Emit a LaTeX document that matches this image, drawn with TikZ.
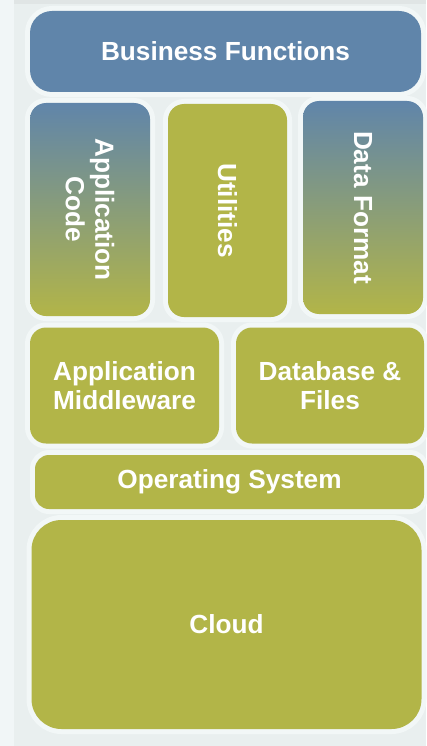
\documentclass[tikz,border=0pt]{standalone}
\usepackage{fontspec}
\setmainfont{Liberation Sans}
\definecolor{outerbg}{HTML}{F1F6F7}
\definecolor{panelbg}{HTML}{E9EFEF}
\definecolor{edgec}{HTML}{F2F7F7}
\definecolor{blu}{HTML}{6085AA}
\definecolor{oli}{HTML}{B2B548}
\begin{document}
\begin{tikzpicture}[x=1pt,y=-1pt,
  layer/.style={rounded corners=#1, inner sep=0pt, align=center, text=white,
    font=\fontsize{26.2}{29.5}\selectfont\bfseries,
    preaction={draw=edgec, line width=10pt}},
  layer/.default=16pt,
  solidbox/.style={fill=oli},
  bluebox/.style={fill=blu},
  gradbox/.style={top color=blu, bottom color=oli}]
\useasboundingbox (0,0) rectangle (426,746);
\fill[outerbg] (0,0) rectangle (426,746);
\fill[panelbg] (14,0) rectangle (426,746);
\fill[panelbg!96!black] (14,0) rectangle (426,4);

\node[layer=22pt, bluebox, minimum width=391pt, minimum height=81pt] (bf) at (225.5,51.5) {Business Functions};

\node[layer=16pt, gradbox, minimum width=120pt, minimum height=213pt] (ac) at (90,209.5) {};
\node[text=white, font=\fontsize{26.2}{29.5}\selectfont\bfseries, align=center, rotate=-90] (act) at (ac.center) {Application\\Code};

\node[layer=16pt, solidbox, minimum width=119pt, minimum height=213pt] (ut) at (227.5,210.5) {};
\node[text=white, font=\fontsize{26.2}{29.5}\selectfont\bfseries, rotate=-90] (utt) at (ut.center) {Utilities};

\node[layer=16pt, gradbox, minimum width=120pt, minimum height=213pt] (df) at (363,207.5) {};
\node[text=white, font=\fontsize{26.2}{29.5}\selectfont\bfseries, rotate=-90] (dft) at (df.center) {Data Format};

\node[layer=16pt, solidbox, minimum width=189pt, minimum height=116pt] (am) at (124.5,385.5) {Application\\Middleware};
\node[layer=16pt, solidbox, minimum width=188pt, minimum height=116pt] (db) at (330,385.5) {Database \&\\Files};

\node[layer=14pt, solidbox, minimum width=389pt, minimum height=54pt] (os) at (229.5,482) {Operating System};

\node[layer=30pt, solidbox, minimum width=390pt, minimum height=209pt] (cl) at (226.5,624.5) {Cloud};
\end{tikzpicture}
\end{document}
